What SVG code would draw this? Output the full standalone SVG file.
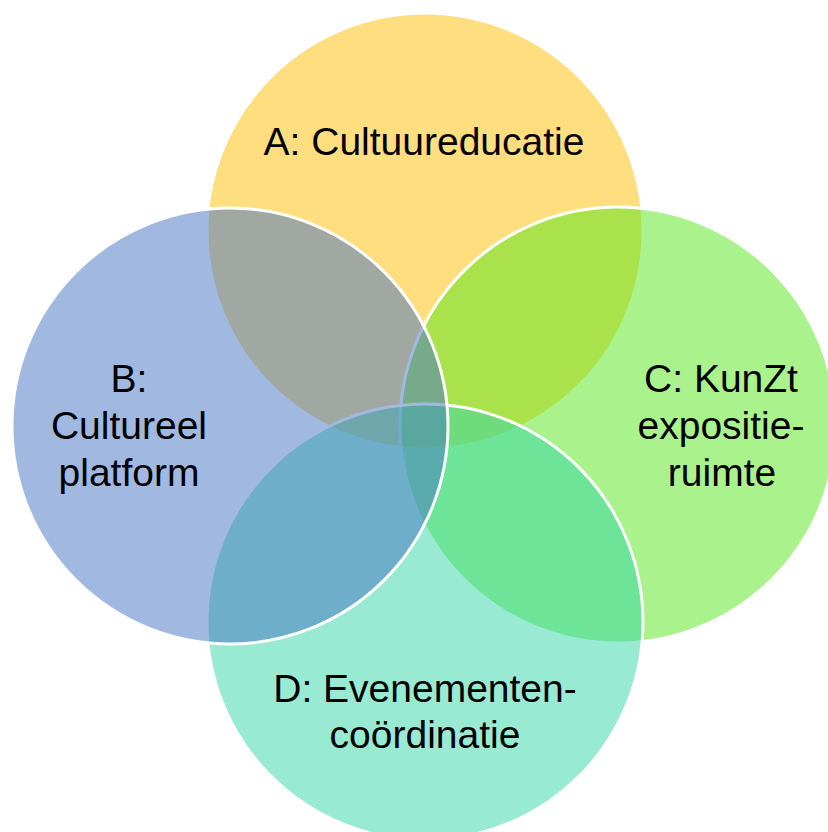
<svg xmlns="http://www.w3.org/2000/svg" width="828" height="832" viewBox="0 0 828 832">
<style>
.c{stroke:#fff;stroke-width:3;fill-opacity:0.5}
.t{font-family:"Liberation Sans",Arial,sans-serif;font-size:39px;fill:#000;text-anchor:middle}
</style>
<rect width="828" height="832" fill="#fff"/>
<g id="A"><circle class="c" cx="425" cy="231" r="218" fill="#FFBD01"/></g>
<g id="C"><circle class="c" cx="618" cy="425" r="218" fill="#55E517"/></g>
<g id="D"><circle class="c" cx="425" cy="622" r="218" fill="#31D5A7"/></g>
<g id="B"><circle class="c" cx="230" cy="426" r="218" fill="#4371C3"/></g>
<g id="labels">
<text class="t" x="424" y="155">A: Cultuureducatie</text>
<text class="t" x="129" y="392">B:</text>
<text class="t" x="129" y="439">Cultureel</text>
<text class="t" x="129" y="486">platform</text>
<text class="t" x="721" y="392">C: KunZt</text>
<text class="t" x="721" y="439">expositie-</text>
<text class="t" x="722" y="486">ruimte</text>
<text class="t" x="425" y="702">D: Evenementen-</text>
<text class="t" x="425" y="748">coördinatie</text>
</g>
</svg>
